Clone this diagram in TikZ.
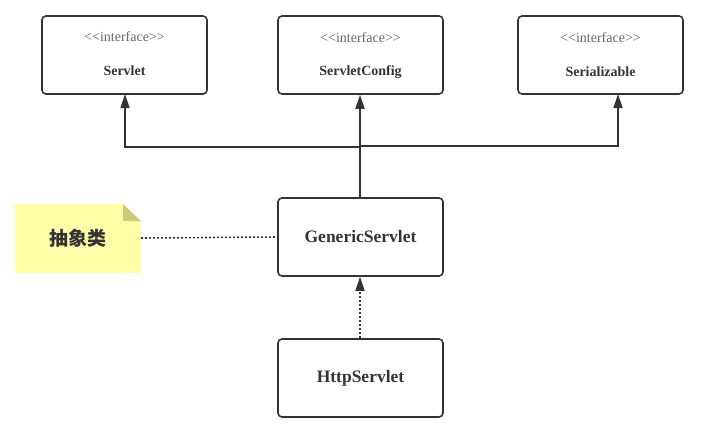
\documentclass[tikz,border=0pt]{standalone}
\usepackage{fontspec}
\setmainfont{Liberation Serif}
\newfontfamily\cjk{Noto Sans CJK SC}
\usetikzlibrary{arrows.meta}
\definecolor{ink}{HTML}{333333}
\definecolor{notefill}{HTML}{FFFFAA}
\definecolor{notefold}{HTML}{CCCC77}
\begin{document}
\begin{tikzpicture}[x=1pt,y=-1pt,
  umlbox/.style={draw=ink,line width=1.6pt,rounded corners=4pt,minimum width=165pt,minimum height=78pt,inner sep=0pt,text=ink},
  conn/.style={draw=ink,line width=1.6pt},
  dots/.style={dash pattern=on 2pt off 2pt},
  tip/.style={-{Triangle[length=14pt,width=9pt]}},
  stereo/.style={text=ink!75,font=\fontsize{14}{16}\selectfont},
  cname/.style={text=ink,font=\bfseries\fontsize{14}{16}\selectfont}]
\useasboundingbox (0,0) rectangle (708,429);
\node[umlbox] (servlet) at (124.5,55) {};
\node[stereo] at (124.5,37) {{<}{<}interface{>}{>}};
\node[cname] at (124.5,71) {Servlet};
\node[umlbox] (config) at (360.5,55) {};
\node[stereo] at (360.5,38) {{<}{<}interface{>}{>}};
\node[cname] at (360.5,72) {ServletConfig};
\node[umlbox] (serial) at (600.5,55) {};
\node[stereo] at (600.5,38) {{<}{<}interface{>}{>}};
\node[cname] at (600.5,72) {Serializable};
\node[umlbox,font=\bfseries\fontsize{17.5}{20}\selectfont] (generic) at (360.5,237) {GenericServlet};
\node[umlbox,font=\bfseries\fontsize{17.5}{20}\selectfont] (http) at (360.5,378) {HttpServlet};
% note
\fill[notefill] (15,204) -- (123,204) -- (141,221) -- (141,273) -- (15,273) -- cycle;
\fill[notefold] (123,204) -- (141,221) -- (123,221) -- cycle;
\node[text=ink,font=\cjk\bfseries\fontsize{19}{22}\selectfont] (note) at (78,238) {抽象类};
\coordinate (noteR) at (141,238);
\coordinate (j1) at (360,147);
\coordinate (j2) at (360,146);
\coordinate (sv) at (125,94);
\coordinate (sz) at (618,94);
% connectors
\draw[conn,tip] (generic.north -| j1) -- (j1) -| (sv);
\draw[conn,tip] (generic.north -| j1) -- (config.south -| j1);
\draw[conn,tip] (j2) -| (sz);
\draw[conn,dots] (noteR) -- (generic.west);
\draw[conn,dots,tip] (http.north -| j1) -- (generic.south -| j1);
\end{tikzpicture}
\end{document}
